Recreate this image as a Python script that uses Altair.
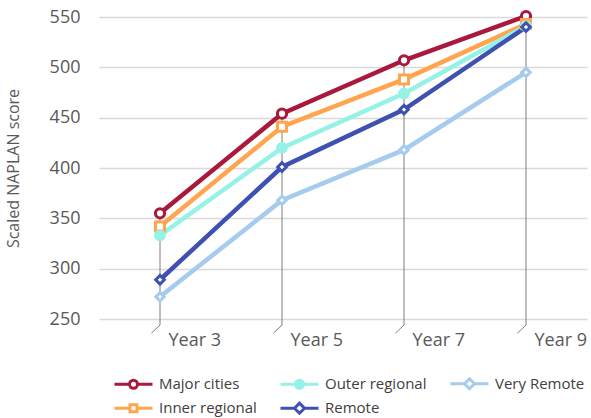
import altair as alt
import pandas as pd

# ---- data ----
years = ["Year 3", "Year 5", "Year 7", "Year 9"]
series = ["Major cities", "Inner regional", "Outer regional", "Remote", "Very Remote"]
major_cities = [355, 454, 507, 551]
inner_regional = [342, 441, 488, 543]
outer_regional = [333, 420, 474, 541]
remote = [289, 401, 458, 540]
very_remote = [272, 368, 418, 495]

# ---- styles ----
colors = ["#A8193D", "#FFA54F", "#96F2E6", "#3F51B0", "#A5CBEE"]
marker_shapes = ["circle", "square", "circle", "diamond", "diamond"]
marker_fills = ["#FFFFFF", "#FFFFFF", "#96F2E6", "#FFFFFF", "#FFFFFF"]
marker_sizes = [85, 70, 110, 130, 135]
# legend glyphs: a short line with the series marker in its middle
legend_paths = [
    "M-1,0L0.5,0M1.3,0L2.8,0M0.5,0A0.4,0.4,0,1,1,1.3,0A0.4,0.4,0,1,1,0.5,0Z",
    "M-1,0L0.55,0M1.25,0L2.8,0M0.55,-0.35L1.25,-0.35L1.25,0.35L0.55,0.35Z",
    "M-1,0L0.5,0M1.3,0L2.8,0M0.5,0A0.4,0.4,0,1,1,1.3,0A0.4,0.4,0,1,1,0.5,0Z",
    "M-1,0L0.4,0M1.4,0L2.8,0M0.4,0L0.9,-0.5L1.4,0L0.9,0.5Z",
    "M-1,0L0.4,0M1.4,0L2.8,0M0.4,0L0.9,-0.5L1.4,0L0.9,0.5Z",
]
TEXT = "#595959"
FONT = "Open Sans"

all_values = [major_cities, inner_regional, outer_regional, remote, very_remote]
rows = []
for s, vals in zip(series, all_values):
    for i, (yr, v) in enumerate(zip(years, vals)):
        rows.append({"idx": i, "year": yr, "series": s, "value": v})
df = pd.DataFrame(rows)

drop = pd.DataFrame({
    "idx": list(range(len(years))),
    "top": [max(col) for col in zip(*all_values)],
})
drop["bottom"] = 244
drop["slant_x"] = drop["idx"] - 0.07
drop["slant_y"] = 236

label_expr = "[" + ",".join("'%s'" % y for y in years) + "][datum.value]"

x_scale = alt.Scale(domain=[-0.5, len(years) - 0.5], nice=False, zero=False)
y_scale = alt.Scale(domain=[250, 550], nice=False, zero=False)

x_axis = alt.Axis(values=list(range(len(years))), labelExpr=label_expr, title=None,
                  grid=False, domain=False, ticks=False, tickSize=0,
                  labelAlign="left", labelBaseline="top", labelOffset=8, labelPadding=12,
                  labelFontSize=18, labelColor=TEXT, labelFont=FONT)
y_axis = alt.Axis(values=list(range(250, 551, 50)), title="Scaled NAPLAN score",
                  grid=True, gridColor="#D9D9D9", gridWidth=1.5,
                  domain=False, ticks=False, tickSize=0, labelPadding=19,
                  labelFontSize=18, labelColor=TEXT, labelFont=FONT,
                  titleFont=FONT, titleFontSize=16, titleFontWeight="normal",
                  titleColor=TEXT, titlePadding=28)


def X(field):
    return alt.X(field, scale=x_scale, axis=x_axis)


def Y(field):
    return alt.Y(field, scale=y_scale, axis=y_axis)


drop_rules = alt.Chart(drop).mark_rule(color="#7F7F7F", strokeWidth=1).encode(
    x=X("idx:Q"), y=Y("top:Q"), y2="bottom:Q",
)
slants = alt.Chart(drop).mark_rule(color="#7F7F7F", strokeWidth=1).encode(
    x=X("idx:Q"), x2="slant_x:Q", y=Y("bottom:Q"), y2="slant_y:Q",
)

lines = alt.Chart(df).mark_line(strokeWidth=4.5).encode(
    x=X("idx:Q"), y=Y("value:Q"),
    color=alt.Color("series:N", scale=alt.Scale(domain=series, range=colors), legend=None),
    detail="series:N",
)

points = alt.Chart(df).mark_point(strokeWidth=3, opacity=1).encode(
    x=X("idx:Q"), y=Y("value:Q"),
    color=alt.Color("series:N", scale=alt.Scale(domain=series, range=colors), legend=None),
    fill=alt.Fill("series:N", scale=alt.Scale(domain=series, range=marker_fills), legend=None),
    shape=alt.Shape("series:N", scale=alt.Scale(domain=series, range=marker_shapes), legend=None),
    size=alt.Size("series:N", scale=alt.Scale(domain=series, range=marker_sizes), legend=None),
)

# legend laid out column-wise like the reference
order = [0, 2, 4, 1, 3]
leg_domain = [series[i] for i in order]
leg = alt.Legend(orient="none", legendX=14, legendY=355, columns=3, direction="horizontal",
                 title=None, labelFont=FONT, labelFontSize=15, labelColor="#404040",
                 symbolSize=400, symbolStrokeWidth=3, labelOffset=23,
                 columnPadding=17, rowPadding=1.7, gridAlign="each")
legend_layer = alt.Chart(df).transform_filter("false").mark_point(strokeWidth=3, opacity=1).encode(
    x=X("idx:Q"), y=Y("value:Q"),
    color=alt.Color("series:N", scale=alt.Scale(domain=leg_domain, range=[colors[i] for i in order]), legend=leg),
    fill=alt.Fill("series:N", scale=alt.Scale(domain=leg_domain, range=[marker_fills[i] for i in order]), legend=leg),
    shape=alt.Shape("series:N", scale=alt.Scale(domain=leg_domain, range=[legend_paths[i] for i in order]), legend=leg),
)

chart = alt.layer(drop_rules, slants, lines, points, legend_layer).resolve_scale(
    color="independent", fill="independent", shape="independent"
).properties(
    width=488, height=302,
    autosize=alt.AutoSizeParams(type="none"),
    padding={"left": 99, "top": 17, "right": 4, "bottom": 99},
).configure_view(stroke=None)

chart.save("out.html", embed_options={"renderer": "svg", "actions": False})
